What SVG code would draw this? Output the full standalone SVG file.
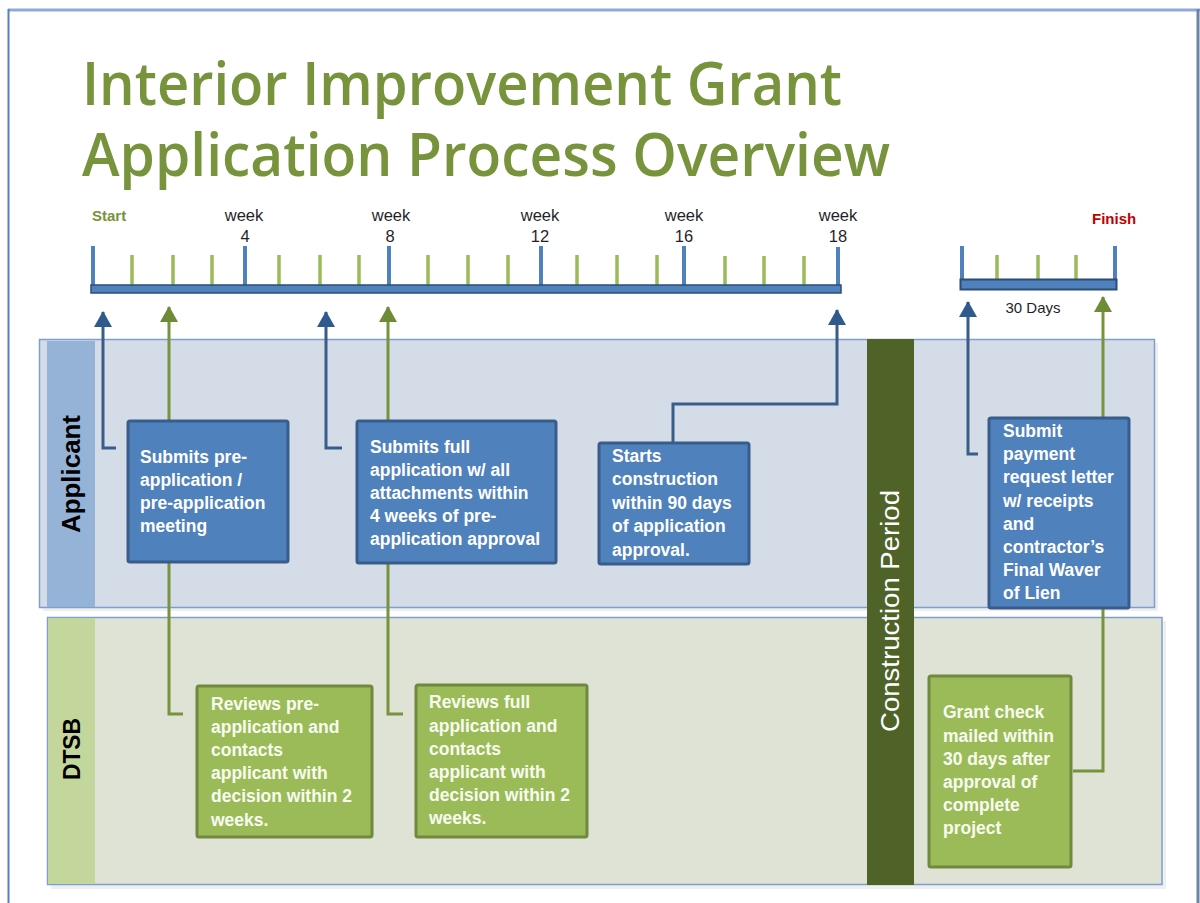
<svg xmlns="http://www.w3.org/2000/svg" width="1200" height="903" viewBox="0 0 1200 903">
<style>
.title{font-family:"Open Sans","Liberation Sans",sans-serif;font-weight:600;font-size:60px;fill:#77933C}
.wk{font-family:"Liberation Sans",Arial,sans-serif;font-size:16.5px;fill:#1F1F2A;text-anchor:middle}
.bt{font-family:"Liberation Sans",Arial,sans-serif;font-weight:bold;font-size:17.5px;fill:#FFFFFF}
.gt{font-family:"Liberation Sans",Arial,sans-serif;font-weight:bold;font-size:17.5px;fill:#F8FBF0}
.lane{font-family:"Liberation Sans",Arial,sans-serif;font-weight:bold;fill:#000}
.bbox{fill:#4F81BD;stroke:#385D8A;stroke-width:3}
.gbox{fill:#9BBB59;stroke:#71893F;stroke-width:3}
.maj{stroke:#4F81BD;stroke-width:4}
.min{stroke:#9BBB59;stroke-width:3.5}
.cb{fill:none;stroke:#385D8A;stroke-width:3}
.cg{fill:none;stroke:#77933C;stroke-width:3}
</style>
<defs>
<marker id="ab" viewBox="0 0 16 18" refX="15" refY="9" markerWidth="16" markerHeight="18" orient="auto" markerUnits="userSpaceOnUse"><path d="M0,0 L16,9 L0,18 z" fill="#2F5A8C"/></marker>
<marker id="ag" viewBox="0 0 16 18" refX="15" refY="9" markerWidth="16" markerHeight="18" orient="auto" markerUnits="userSpaceOnUse"><path d="M0,0 L16,9 L0,18 z" fill="#6F8B36"/></marker>
</defs>
<rect width="1200" height="903" fill="#FFFFFF"/>
<!-- frame -->
<g id="frame">
<line x1="8" y1="10" x2="1200" y2="10" stroke="#8EAADB" stroke-width="3"/>
<line x1="8.5" y1="9" x2="8.5" y2="903" stroke="#5B7FB8" stroke-width="2"/>
<line x1="1198" y1="9" x2="1198" y2="903" stroke="#6A84A8" stroke-width="3"/>
</g>
<g id="title">
<text class="title" x="82" y="105" textLength="760" lengthAdjust="spacingAndGlyphs">Interior Improvement Grant</text>
<text class="title" x="82" y="176" textLength="808" lengthAdjust="spacingAndGlyphs">Application Process Overview</text>
</g>
<!-- timeline -->
<g id="timeline">
<text x="92" y="221" font-family="Liberation Sans, Arial, sans-serif" font-weight="bold" font-size="15" fill="#77933C">Start</text>
<text class="wk" x="244" y="221">week</text><text class="wk" x="245" y="242">4</text>
<text class="wk" x="391" y="221">week</text><text class="wk" x="390" y="242">8</text>
<text class="wk" x="540" y="221">week</text><text class="wk" x="540" y="242">12</text>
<text class="wk" x="684" y="221">week</text><text class="wk" x="684" y="242">16</text>
<text class="wk" x="838" y="221">week</text><text class="wk" x="838" y="242">18</text>
<g class="min">
<line x1="132" y1="255" x2="132" y2="287"/><line x1="173" y1="255" x2="173" y2="287"/><line x1="212" y1="255" x2="212" y2="287"/>
<line x1="279" y1="255" x2="279" y2="287"/><line x1="320" y1="255" x2="320" y2="287"/><line x1="359" y1="255" x2="359" y2="287"/>
<line x1="428" y1="255" x2="428" y2="287"/><line x1="468" y1="255" x2="468" y2="287"/><line x1="508" y1="255" x2="508" y2="287"/>
<line x1="577" y1="255" x2="577" y2="287"/><line x1="617" y1="255" x2="617" y2="287"/><line x1="657" y1="255" x2="657" y2="287"/>
<line x1="725" y1="256" x2="725" y2="287"/><line x1="764" y1="256" x2="764" y2="287"/><line x1="804" y1="256" x2="804" y2="287"/>
</g>
<g class="maj">
<line x1="93" y1="246" x2="93" y2="287"/><line x1="245" y1="246" x2="245" y2="287"/><line x1="389" y1="246" x2="389" y2="287"/>
<line x1="541" y1="246" x2="541" y2="287"/><line x1="684" y1="246" x2="684" y2="287"/><line x1="838" y1="247" x2="838" y2="287"/>
</g>
<rect x="91" y="285" width="750" height="8" fill="#4F81BD" stroke="#2C4D75" stroke-width="1.5"/>
</g>
<g id="timeline2">
<text x="1092" y="224" font-family="Liberation Sans, Arial, sans-serif" font-weight="bold" font-size="15" fill="#C00000">Finish</text>
<g class="min">
<line x1="997" y1="255" x2="997" y2="281"/><line x1="1038" y1="255" x2="1038" y2="281"/><line x1="1076" y1="255" x2="1076" y2="281"/>
</g>
<g class="maj">
<line x1="962" y1="246" x2="962" y2="281"/><line x1="1115" y1="246" x2="1115" y2="281"/>
</g>
<rect x="960.5" y="279.5" width="156" height="10" fill="#4F81BD" stroke="#2C4D75" stroke-width="2"/>
<text x="1033" y="313" font-family="Liberation Sans, Arial, sans-serif" font-size="15" fill="#1F1F2A" text-anchor="middle">30 Days</text>
</g>
<!-- lanes -->
<g id="lane-applicant">
<rect x="43" y="343" width="1115" height="268" fill="#E4E4E4" opacity="0.6"/>
<rect x="39.5" y="339.5" width="1115" height="268" fill="#D4DCE7" stroke="#7F9ED0" stroke-width="1.5"/>
<rect x="47" y="341" width="48" height="266" fill="#95B3D7"/>
<text class="lane" font-size="25" transform="translate(80,474) rotate(-90)" text-anchor="middle" textLength="118" lengthAdjust="spacingAndGlyphs">Applicant</text>
</g>
<g id="lane-dtsb">
<rect x="51" y="621" width="1115" height="268" fill="#E4E4E4" opacity="0.6"/>
<rect x="47.5" y="617.5" width="1114.5" height="267" fill="#DFE3D5" stroke="#7F9ED0" stroke-width="1.5"/>
<rect x="48" y="618" width="47" height="266" fill="#C3D69B"/>
<text class="lane" font-size="24" transform="translate(80,749) rotate(-90)" text-anchor="middle" textLength="62" lengthAdjust="spacingAndGlyphs">DTSB</text>
</g>
<g id="construction-period">
<rect x="867" y="339" width="47" height="546" fill="#4F6228"/>
<text transform="translate(899,611) rotate(-90)" text-anchor="middle" font-family="Liberation Sans, Arial, sans-serif" font-size="26" fill="#FFFFFF" textLength="242" lengthAdjust="spacingAndGlyphs">Construction Period</text>
</g>
<!-- connectors -->
<g id="connectors">
<path class="cb" d="M116,448 H103 V312" marker-end="url(#ab)"/>
<path class="cg" d="M183,714 H169 V307" marker-end="url(#ag)"/>
<path class="cb" d="M342,448 H326 V312" marker-end="url(#ab)"/>
<path class="cg" d="M403,714 H388 V307" marker-end="url(#ag)"/>
<path class="cb" d="M673,443 V404 H837 V310" marker-end="url(#ab)"/>
<path class="cb" d="M978,454 H968 V302" marker-end="url(#ab)"/>
<path class="cg" d="M1073,771 H1103 V297" marker-end="url(#ag)"/>
</g>
<!-- nodes -->
<g id="node-submit-pre">
<rect class="bbox" x="128" y="421" width="160" height="141" rx="2"/>
<text class="bt"><tspan x="140" y="463">Submits pre-</tspan><tspan x="140" y="486">application /</tspan><tspan x="140" y="509">pre-application</tspan><tspan x="140" y="532">meeting</tspan></text>
</g>
<g id="node-submit-full">
<rect class="bbox" x="357" y="421" width="199" height="142" rx="2"/>
<text class="bt"><tspan x="370" y="453">Submits full</tspan><tspan x="370" y="476">application w/ all</tspan><tspan x="370" y="499">attachments within</tspan><tspan x="370" y="522">4 weeks of pre-</tspan><tspan x="370" y="545">application approval</tspan></text>
</g>
<g id="node-start-construction">
<rect class="bbox" x="599" y="443" width="150" height="121" rx="2"/>
<text class="bt"><tspan x="612" y="462">Starts</tspan><tspan x="612" y="485">construction</tspan><tspan x="612" y="509">within 90 days</tspan><tspan x="612" y="532">of application</tspan><tspan x="612" y="556">approval.</tspan></text>
</g>
<g id="node-submit-payment">
<rect class="bbox" x="989" y="418" width="140" height="190" rx="2"/>
<text class="bt"><tspan x="1003" y="437">Submit</tspan><tspan x="1003" y="460">payment</tspan><tspan x="1003" y="483">request letter</tspan><tspan x="1003" y="507">w/ receipts</tspan><tspan x="1003" y="530">and</tspan><tspan x="1003" y="553">contractor’s</tspan><tspan x="1003" y="576">Final Waver</tspan><tspan x="1003" y="599">of Lien</tspan></text>
</g>
<g id="node-review-pre">
<rect class="gbox" x="197" y="686" width="175" height="151" rx="2"/>
<text class="gt"><tspan x="211" y="710">Reviews pre-</tspan><tspan x="211" y="733">application and</tspan><tspan x="211" y="756">contacts</tspan><tspan x="211" y="779">applicant with</tspan><tspan x="211" y="802">decision within 2</tspan><tspan x="211" y="826">weeks.</tspan></text>
</g>
<g id="node-review-full">
<rect class="gbox" x="416" y="685" width="171" height="152" rx="2"/>
<text class="gt"><tspan x="429" y="708">Reviews full</tspan><tspan x="429" y="732">application and</tspan><tspan x="429" y="755">contacts</tspan><tspan x="429" y="778">applicant with</tspan><tspan x="429" y="801">decision within 2</tspan><tspan x="429" y="824">weeks.</tspan></text>
</g>
<g id="node-grant-check">
<rect class="gbox" x="929" y="676" width="142" height="191" rx="2"/>
<text class="gt"><tspan x="943" y="718">Grant check</tspan><tspan x="943" y="742">mailed within</tspan><tspan x="943" y="765">30 days after</tspan><tspan x="943" y="788">approval of</tspan><tspan x="943" y="811">complete</tspan><tspan x="943" y="834">project</tspan></text>
</g>
</svg>
